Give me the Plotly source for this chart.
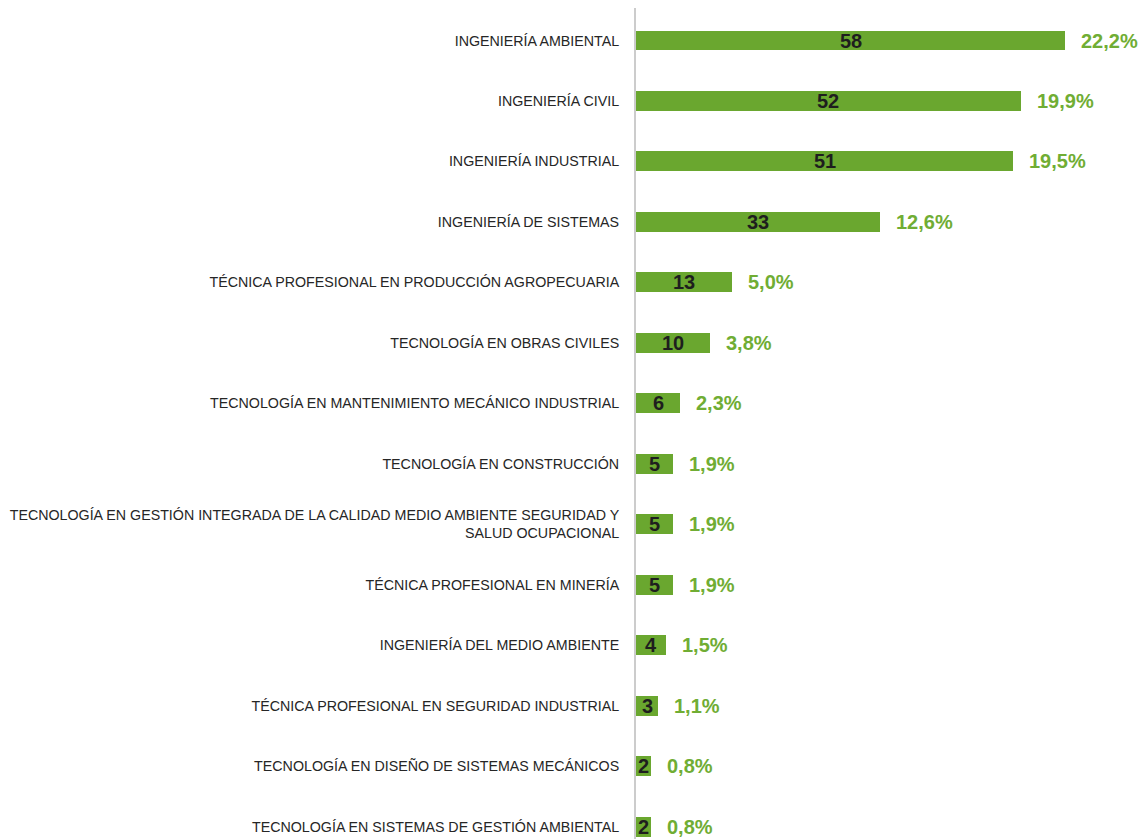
import plotly.graph_objects as go

# Programas académicos y número de estudiantes
programas = [
    "INGENIERÍA AMBIENTAL",
    "INGENIERÍA CIVIL",
    "INGENIERÍA INDUSTRIAL",
    "INGENIERÍA DE SISTEMAS",
    "TÉCNICA PROFESIONAL EN PRODUCCIÓN AGROPECUARIA",
    "TECNOLOGÍA EN OBRAS CIVILES",
    "TECNOLOGÍA EN MANTENIMIENTO MECÁNICO INDUSTRIAL",
    "TECNOLOGÍA EN CONSTRUCCIÓN",
    "TECNOLOGÍA EN GESTIÓN INTEGRADA DE LA CALIDAD MEDIO AMBIENTE SEGURIDAD Y<br>SALUD OCUPACIONAL",
    "TÉCNICA PROFESIONAL EN MINERÍA",
    "INGENIERÍA DEL MEDIO AMBIENTE",
    "TÉCNICA PROFESIONAL EN SEGURIDAD INDUSTRIAL",
    "TECNOLOGÍA EN DISEÑO DE SISTEMAS MECÁNICOS",
    "TECNOLOGÍA EN SISTEMAS DE GESTIÓN AMBIENTAL",
]
estudiantes = [58, 52, 51, 33, 13, 10, 6, 5, 5, 5, 4, 3, 2, 2]
porcentajes = [22.2, 19.9, 19.5, 12.6, 5.0, 3.8, 2.3, 1.9, 1.9, 1.9, 1.5, 1.1, 0.8, 0.8]

VERDE = "#6aa72f"
FUENTE = "Liberation Sans, Arial, sans-serif"

fig = go.Figure(
    go.Bar(
        x=estudiantes,
        y=programas,
        orientation="h",
        width=0.33,
        marker=dict(color=VERDE, line=dict(width=0)),
        hoverinfo="skip",
    )
)

anotaciones = []
for prog, n, p in zip(programas, estudiantes, porcentajes):
    # número dentro de la barra
    anotaciones.append(dict(
        x=n / 2, y=prog, xref="x", yref="y", text=f"<b>{n}</b>",
        showarrow=False, xanchor="center", yanchor="middle",
        font=dict(family=FUENTE, size=20, color="#1e1e1e"),
    ))
    # porcentaje a la derecha
    anotaciones.append(dict(
        x=n, y=prog, xref="x", yref="y",
        text="<b>" + f"{p:.1f}".replace(".", ",") + "%</b>",
        showarrow=False, xanchor="left", yanchor="middle", xshift=14,
        font=dict(family=FUENTE, size=20, color="#70ad34"),
    ))

fig.update_layout(
    width=1143,
    height=839,
    margin=dict(l=636, r=0, t=8, b=0),
    paper_bgcolor="white",
    plot_bgcolor="white",
    showlegend=False,
    bargap=0,
    annotations=anotaciones,
    xaxis=dict(
        range=[0, 68.5],
        showgrid=False,
        zeroline=False,
        showticklabels=False,
        showline=False,
        fixedrange=True,
    ),
    yaxis=dict(
        range=[13.205, -0.5375],
        showgrid=False,
        zeroline=False,
        showline=True,
        linecolor="#cccccc",
        linewidth=2,
        ticks="",
        ticklabelstandoff=12,
        tickfont=dict(family=FUENTE, size=14.25, color="#262626"),
        fixedrange=True,
    ),
)

fig.write_html("out.html")
